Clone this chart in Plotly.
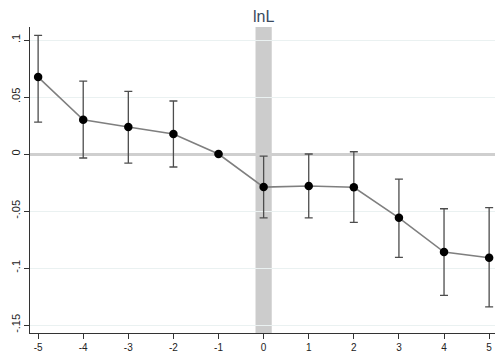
import plotly.graph_objects as go

periods = [-5, -4, -3, -2, -1, 0, 1, 2, 3, 4, 5]
coef = [0.0675, 0.030, 0.0237, 0.0175, 0.0, -0.029, -0.028, -0.0292, -0.056, -0.086, -0.091]
ci_hi = [0.104, 0.064, 0.055, 0.0465, 0.0, -0.0018, 0.0, 0.002, -0.022, -0.048, -0.047]
ci_lo = [0.028, -0.0035, -0.008, -0.0114, 0.0, -0.056, -0.056, -0.060, -0.0906, -0.124, -0.134]

y_ticks = [0.1, 0.05, 0, -0.05, -0.1, -0.15]
y_tick_labels = [".1", ".05", "0", "-.05", "-.1", "-.15"]
x_ticks = [-5, -4, -3, -2, -1, 0, 1, 2, 3, 4, 5]
x_tick_labels = ["-5", "-4", "-3", "-2", "-1", "0", "1", "2", "3", "4", "5"]
event_label = "lnL"

err_plus = [h - c for h, c in zip(ci_hi, coef)]
err_minus = [c - l for c, l in zip(coef, ci_lo)]
show_err = [p != -1 for p in periods]
err_plus = [e if s else None for e, s in zip(err_plus, show_err)]
err_minus = [e if s else None for e, s in zip(err_minus, show_err)]

fig = go.Figure()

fig.add_shape(type="rect", xref="x", yref="paper", x0=-0.18, x1=0.18, y0=0, y1=1,
              fillcolor="#cccccc", line_width=0, layer="below")

fig.add_trace(go.Scatter(
    x=periods, y=coef, mode="lines+markers",
    line=dict(color="#7f7f7f", width=1.6),
    marker=dict(color="black", size=8.5),
    error_y=dict(type="data", symmetric=False, array=err_plus, arrayminus=err_minus,
                 color="#4d4d4d", thickness=1.3, width=4),
    showlegend=False,
))

fig.add_annotation(x=0, y=1, xref="x", yref="paper", text=event_label, showarrow=False,
                   yanchor="bottom", yshift=0,
                   font=dict(family="Liberation Sans, Arial, sans-serif", size=16, color="#3a4a5e"))

fig.update_layout(
    width=495, height=353,
    margin=dict(l=30, r=0, t=27, b=20, autoexpand=False),
    paper_bgcolor="white", plot_bgcolor="white",
    font=dict(family="Liberation Sans, Arial, sans-serif", size=11, color="#222222"),
)
fig.update_xaxes(range=[-5.18, 5.13], tickvals=x_ticks, ticktext=x_tick_labels, automargin=False,
                 showgrid=False, zeroline=False, showline=True, linecolor="#333333", linewidth=1,
                 ticks="outside", ticklen=5, tickcolor="#333333", tickfont=dict(size=10))
fig.update_yaxes(range=[-0.157, 0.1114], tickvals=y_ticks, ticktext=y_tick_labels, tickangle=-90,
                 automargin=False,
                 showgrid=True, gridcolor="#eaf1f1", gridwidth=1,
                 zeroline=True, zerolinecolor="#cfcfcf", zerolinewidth=3,
                 showline=True, linecolor="#333333", linewidth=1,
                 ticks="outside", ticklen=5, tickcolor="#333333", tickfont=dict(size=11))

# remove the page's default body margin so the 495x353 figure fills the window exactly
fig.write_html("out.html", config={"displayModeBar": False},
               post_script="document.body.style.margin='0';document.body.style.overflow='hidden';")
